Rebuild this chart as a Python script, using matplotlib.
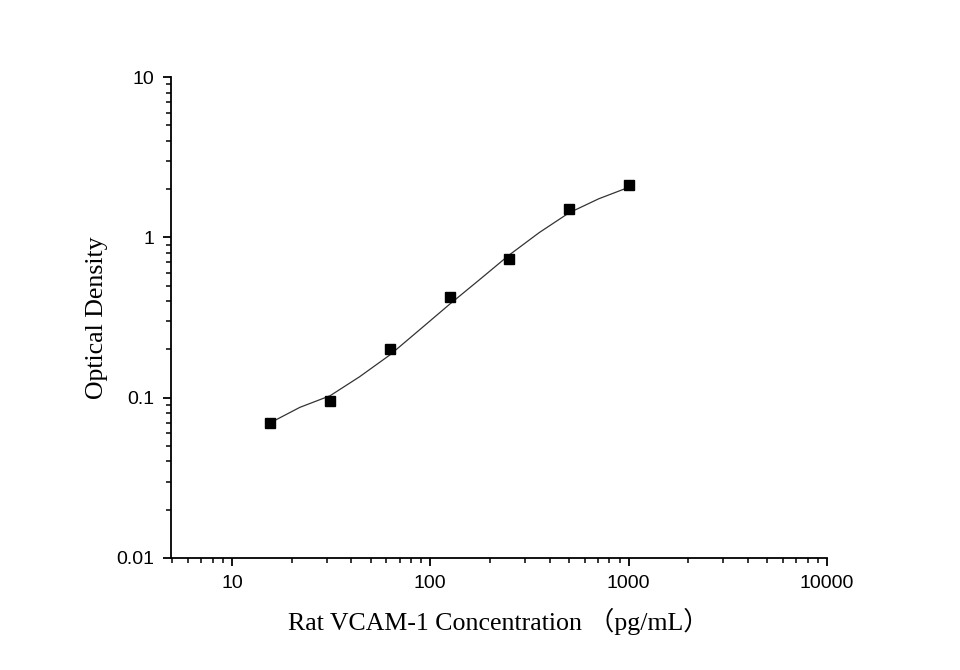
import matplotlib
matplotlib.use("Agg")
import matplotlib.pyplot as plt
from matplotlib.ticker import LogLocator, FixedLocator, NullFormatter


# nồng độ chuẩn (pg/mL) và mật độ quang đo được
conc = [15.6, 31.25, 62.5, 125, 250, 500, 1000]
od = [0.0697, 0.0948, 0.200, 0.426, 0.735, 1.495, 2.11]

# đường cong khớp
curve_x = [15.6, 22, 31.25, 44, 62.5, 88, 125, 177, 250, 354, 500, 707, 1000]
curve_y = [0.0697, 0.087, 0.1028, 0.135, 0.1845, 0.264, 0.382, 0.544, 0.776, 1.07, 1.42, 1.74, 2.05]

x_ticks = [10, 100, 1000, 10000]
x_tick_labels = ["10", "100", "1000", "10000"]
y_ticks = [0.01, 0.1, 1, 10]
y_tick_labels = ["0.01", "0.1", "1", "10"]


def ve_bieu_do():
    fig = plt.figure(figsize=(9.6, 6.7), dpi=100)
    ax = fig.add_axes([171 / 960, 1 - 558 / 670, (827 - 171) / 960, (558 - 77) / 670])

    ax.set_xscale("log")
    ax.set_yscale("log")
    ax.set_xlim(4.93, 10000)
    ax.set_ylim(0.01, 10)

    ax.plot(curve_x, curve_y, color="#333333", lw=0.9, zorder=2)
    ax.plot(conc, od, linestyle="none", marker="s", markersize=7.5,
            color="black", zorder=3)

    for s in ["top", "right"]:
        ax.spines[s].set_visible(False)
    for s in ["left", "bottom"]:
        ax.spines[s].set_linewidth(1.3)

    ax.xaxis.set_major_locator(FixedLocator(x_ticks))
    ax.set_xticklabels(x_tick_labels)
    ax.yaxis.set_major_locator(FixedLocator(y_ticks))
    ax.set_yticklabels(y_tick_labels)
    ax.xaxis.set_minor_locator(LogLocator(base=10, subs=range(2, 10), numticks=20))
    ax.yaxis.set_minor_locator(LogLocator(base=10, subs=range(2, 10), numticks=20))
    ax.xaxis.set_minor_formatter(NullFormatter())
    ax.yaxis.set_minor_formatter(NullFormatter())

    ax.tick_params(which="major", direction="out", length=6, width=1.3,
                   labelsize=14, pad=6)
    ax.tick_params(which="minor", direction="out", length=3.5, width=1.1)
    for lab in ax.get_xticklabels() + ax.get_yticklabels():
        lab.set_fontfamily("Liberation Sans")

    ax.set_xlabel("Rat VCAM-1 Concentration （pg/mL）", fontsize=18.6,
                  family=["Liberation Serif", "Noto Sans CJK SC"], labelpad=12)
    ax.set_ylabel("Optical Density", fontsize=18.6,
                  family=["Liberation Serif", "Noto Sans CJK SC"], labelpad=6)

    fig.savefig("out.png", dpi=100)


if __name__ == "__main__":
    ve_bieu_do()
